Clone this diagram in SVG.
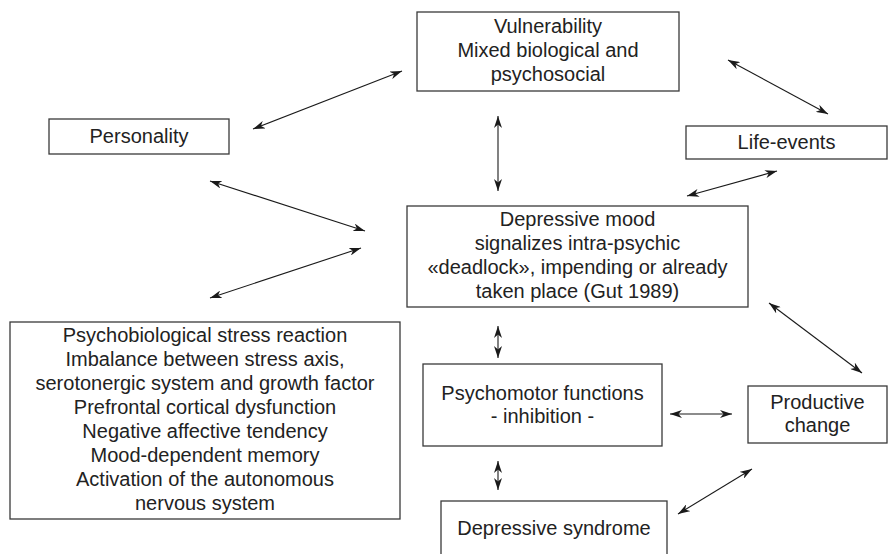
<svg xmlns="http://www.w3.org/2000/svg" width="888" height="554" viewBox="0 0 888 554">
  <defs>
    <style>
      .box { fill: #ffffff; stroke: #3a3a3a; stroke-width: 1.3; }
      .lbl { font-family: "Liberation Sans", Arial, sans-serif; font-size: 20px; fill: #222222; text-anchor: middle; }
      .link { stroke: #1a1a1a; stroke-width: 1.1; fill: none; marker-start: url(#head); marker-end: url(#head); }
    </style>
    <marker id="head" viewBox="0 0 12 8" refX="12" refY="4" markerWidth="12" markerHeight="8" markerUnits="userSpaceOnUse" orient="auto-start-reverse">
      <path d="M0,0 L12,4 L0,8 L3.5,4 z" fill="#1a1a1a"/>
    </marker>
  </defs>
  <rect width="888" height="554" fill="#ffffff"/>

  <!-- connectors -->
  <g id="connectors">
    <line class="link" x1="253" y1="129" x2="402" y2="71"/>
    <line class="link" x1="728" y1="60" x2="828" y2="114"/>
    <line class="link" x1="498" y1="116" x2="498" y2="191"/>
    <line class="link" x1="687" y1="196" x2="777" y2="171"/>
    <line class="link" x1="210" y1="181" x2="365" y2="231"/>
    <line class="link" x1="210" y1="298" x2="361" y2="248"/>
    <line class="link" x1="769" y1="303" x2="862" y2="373"/>
    <line class="link" x1="498" y1="326" x2="498" y2="358"/>
    <line class="link" x1="670" y1="414" x2="732" y2="414"/>
    <line class="link" x1="498" y1="461" x2="498" y2="490"/>
    <line class="link" x1="678" y1="514" x2="752" y2="469"/>
  </g>

  <g id="vulnerability">
    <rect class="box" x="417" y="12" width="262" height="79"/>
    <text class="lbl" x="548" y="33">Vulnerability</text>
    <text class="lbl" x="548" y="57">Mixed biological and</text>
    <text class="lbl" x="548" y="81">psychosocial</text>
  </g>

  <g id="personality">
    <rect class="box" x="49" y="119" width="180" height="35"/>
    <text class="lbl" x="139" y="143">Personality</text>
  </g>

  <g id="life-events">
    <rect class="box" x="686" y="126" width="201" height="33"/>
    <text class="lbl" x="786.5" y="149">Life-events</text>
  </g>

  <g id="depressive-mood">
    <rect class="box" x="407" y="206" width="341" height="101"/>
    <text class="lbl" x="577.5" y="226">Depressive mood</text>
    <text class="lbl" x="577.5" y="250">signalizes intra-psychic</text>
    <text class="lbl" x="577.5" y="274">«deadlock», impending or already</text>
    <text class="lbl" x="577.5" y="298">taken place (Gut 1989)</text>
  </g>

  <g id="stress-reaction">
    <rect class="box" x="10" y="322" width="390" height="197"/>
    <text class="lbl" x="205" y="342">Psychobiological stress reaction</text>
    <text class="lbl" x="205" y="366">Imbalance between stress axis,</text>
    <text class="lbl" x="205" y="390">serotonergic system and growth factor</text>
    <text class="lbl" x="205" y="414">Prefrontal cortical dysfunction</text>
    <text class="lbl" x="205" y="438">Negative affective tendency</text>
    <text class="lbl" x="205" y="462">Mood-dependent memory</text>
    <text class="lbl" x="205" y="486">Activation of the autonomous</text>
    <text class="lbl" x="205" y="510">nervous system</text>
  </g>

  <g id="psychomotor">
    <rect class="box" x="423" y="364" width="239" height="82"/>
    <text class="lbl" x="542.5" y="400">Psychomotor functions</text>
    <text class="lbl" x="542.5" y="423">- inhibition -</text>
  </g>

  <g id="productive-change">
    <rect class="box" x="748" y="386" width="139" height="57"/>
    <text class="lbl" x="817.5" y="409">Productive</text>
    <text class="lbl" x="817.5" y="432">change</text>
  </g>

  <g id="depressive-syndrome">
    <rect class="box" x="441" y="501" width="226" height="60"/>
    <text class="lbl" x="554" y="535">Depressive syndrome</text>
  </g>
</svg>
